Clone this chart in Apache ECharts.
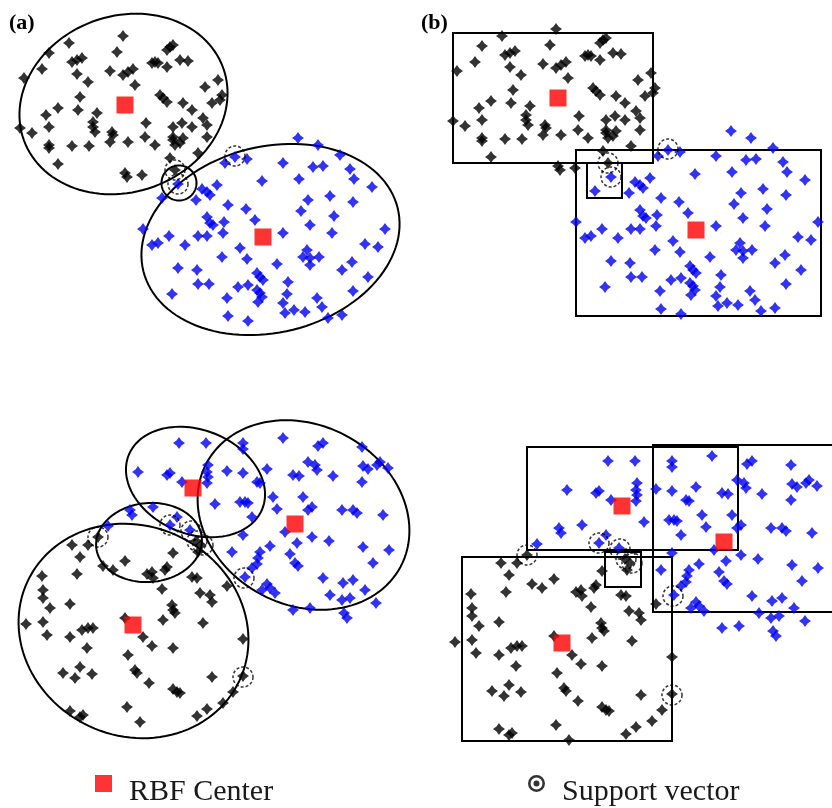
<!DOCTYPE html>
<html>
<head>
<meta charset="utf-8">
<title>RBF centers and support vectors</title>
<script src="https://cdn.jsdelivr.net/npm/echarts@6/dist/echarts.min.js"></script>
<style>
html, body { margin: 0; padding: 0; background: #fff; }
#chart { width: 832px; height: 808px; }
</style>
</head>
<body>
<div id="chart"></div>
<script>
// upper data set (panel a coordinates), reused for panel b
var topBlack = [
    [123,36],[69,43],[49,53],[117,52],[170,47],[173,45],[167,50],[72,62],[77,60],[82,58],
    [152,63],[155,62],[158,63],[180,60],[188,61],[167,67],[42,69],[24,78],[77,74],[110,71],
    [123,75],[128,72],[133,69],[88,82],[135,85],[218,80],[205,87],[222,95],[220,100],[80,97],
    [160,95],[163,98],[167,102],[183,103],[192,110],[212,103],[58,108],[46,115],[78,110],[97,113],
    [93,122],[93,127],[95,132],[146,123],[173,127],[182,123],[192,127],[203,118],[207,125],[20,128],
    [32,133],[49,127],[112,132],[113,135],[110,142],[173,137],[173,140],[183,138],[207,137],[145,137],
    [49,145],[49,148],[72,146],[89,146],[128,142],[155,145],[175,145],[180,143],[198,153],[58,164],
    [170,158],[125,173],[127,177],[142,175],[175,170]
];
var topBlue = [
    [298,138],[318,145],[340,155],[247,159],[225,163],[283,163],[313,167],[323,166],[350,169],[354,179],
    [262,181],[299,179],[372,187],[217,185],[202,189],[207,192],[210,195],[178,184],[162,198],[196,200],
    [330,196],[308,200],[353,202],[228,205],[246,209],[301,211],[334,216],[207,217],[210,223],[213,225],
    [224,222],[255,220],[310,225],[143,229],[385,229],[223,233],[198,236],[207,236],[169,236],[283,233],
    [332,233],[152,245],[158,243],[185,245],[240,248],[365,244],[378,247],[307,250],[303,257],[310,258],
    [319,257],[222,257],[247,259],[310,265],[277,264],[352,262],[178,268],[197,270],[342,270],[257,273],
    [260,277],[263,280],[368,277],[198,284],[209,284],[288,282],[238,287],[248,285],[257,290],[260,293],
    [262,297],[258,302],[287,294],[353,291],[172,294],[227,298],[317,298],[322,307],[283,303],[294,310],
    [305,312],[285,313],[328,318],[342,315],[228,316],[248,321],[235,157]
];
var topCenters = [[125,105],[263,237]];
var topSupport = [[175,170],[178,184],[235,156]];
// [cx, cy, rx, ry, angle]
var topEllipses = [[123.5,104,106,88,-20],[270.5,239.5,131,93,-14],[179,183,17.5,17.5,0]];
// [x1, y1, x2, y2]
var topRects = [[20,40,220,170],[143,157,388,323],[154,170,189,205]];

// lower data set (bottom-left coordinates), reused for bottom-right
var lowBlack = [
    [72,545],[88,545],[80,557],[125,561],[173,553],[103,566],[113,570],[147,574],[152,572],[153,578],
    [165,570],[167,567],[192,577],[197,578],[42,576],[77,574],[162,589],[200,593],[210,595],[212,602],
    [227,586],[43,590],[43,598],[50,608],[70,604],[172,605],[173,610],[175,613],[26,624],[43,622],
    [163,620],[125,618],[203,623],[82,630],[88,628],[93,628],[47,635],[70,637],[143,637],[152,646],
    [243,639],[87,648],[173,648],[128,655],[80,667],[63,673],[75,678],[92,674],[135,670],[137,673],
    [149,683],[173,689],[177,692],[180,693],[212,677],[243,676],[233,692],[223,703],[207,709],[197,716],
    [70,711],[80,717],[83,715],[127,707],[140,722],[98,537],[196,541],[201,545],[198,552]
];
var lowBlue = [
    [179,443],[206,443],[243,443],[243,449],[283,438],[318,446],[323,443],[362,447],[138,472],[167,475],
    [170,473],[208,465],[207,472],[208,477],[207,483],[227,471],[243,473],[267,469],[182,482],[257,482],
    [260,483],[293,475],[299,476],[308,462],[315,465],[317,470],[333,476],[363,466],[368,469],[377,465],
    [380,462],[388,468],[362,482],[130,510],[132,515],[153,507],[215,504],[240,502],[245,502],[248,503],
    [273,497],[303,497],[277,509],[308,510],[312,507],[342,510],[353,510],[357,513],[383,515],[252,517],
    [177,517],[170,525],[190,530],[243,535],[285,532],[312,537],[329,541],[297,543],[270,546],[232,552],
    [260,552],[258,558],[257,564],[252,568],[290,554],[295,563],[298,566],[363,547],[389,550],[373,563],
    [245,577],[323,578],[343,583],[353,580],[267,584],[270,588],[275,593],[262,590],[330,595],[342,600],
    [350,598],[365,590],[376,603],[293,610],[310,608],[344,613],[347,618],[108,526]
];
var lowCenters = [[193,488],[295,524],[133,625]];
var lowSupport = [[98,537],[170,525],[191,531],[197,541],[203,545],[244,578],[243,677]];
var lowEllipses = [[133.5,631,117,105,25],[149,542.5,53,39.5,-5],[195.5,482,72,52,22],[303.5,515,110,90,28]];
var lowRects = [[98,429,309,532],[224,427,410,594],[176,534,212,569],[33,539,243,723]];

var W = 832, H = 808;
var starPath = 'path://M0,-10L4.2,-4.2L10,0L4.2,4.2L0,10L-4.2,4.2L-10,0L-4.2,-4.2Z';
var ringDot = 'path://M10,0A10,10,0,1,1,9.99,0ZM10,3A7,7,0,1,0,10.01,3ZM10,6.5A3.5,3.5,0,1,1,9.99,6.5Z';

function ellipseItem(params, api) {
    var cx = api.value(0), cy = api.value(1), a = api.value(2), b = api.value(3);
    var phi = api.value(4) * Math.PI / 180;
    var pts = [];
    for (var k = 0; k < 120; k++) {
        var t = k / 120 * 2 * Math.PI;
        pts.push(api.coord([
            cx + a * Math.cos(phi) * Math.cos(t) - b * Math.sin(phi) * Math.sin(t),
            cy + a * Math.sin(phi) * Math.cos(t) + b * Math.cos(phi) * Math.sin(t)
        ]));
    }
    return { type: 'polygon', shape: { points: pts }, style: { fill: 'none', stroke: '#000', lineWidth: 2 } };
}

function rectItem(params, api) {
    var x1 = api.value(0), y1 = api.value(1), x2 = api.value(2), y2 = api.value(3);
    var pts = [api.coord([x1, y1]), api.coord([x2, y1]), api.coord([x2, y2]), api.coord([x1, y2])];
    return { type: 'polygon', shape: { points: pts }, style: { fill: 'none', stroke: '#000', lineWidth: 2 } };
}

// each panel: data set, shapes and pixel offset of the data set
var panels = [
    { black: topBlack, blue: topBlue, centers: topCenters, sv: topSupport, shapes: topEllipses, draw: ellipseItem, dx: 0, dy: 0 },
    { black: topBlack, blue: topBlue, centers: topCenters, sv: topSupport, shapes: topRects, draw: rectItem, dx: 433, dy: -7 },
    { black: lowBlack, blue: lowBlue, centers: lowCenters, sv: lowSupport, shapes: lowEllipses, draw: ellipseItem, dx: 0, dy: 0 },
    { black: lowBlack, blue: lowBlue, centers: lowCenters, sv: lowSupport, shapes: lowRects, draw: rectItem, dx: 429, dy: 18 }
];

var chart = echarts.init(document.getElementById('chart'), null, { renderer: 'canvas' });

var grids = [], xAxes = [], yAxes = [], series = [];
panels.forEach(function (p, i) {
    grids.push({ left: 0, top: 0, width: W, height: H });
    xAxes.push({ gridIndex: i, type: 'value', min: -p.dx, max: W - p.dx, show: false });
    yAxes.push({ gridIndex: i, type: 'value', min: -p.dy, max: H - p.dy, inverse: true, show: false });
    series.push({
        type: 'custom', xAxisIndex: i, yAxisIndex: i, renderItem: p.draw,
        data: p.shapes, encode: { x: 0, y: 1 }, silent: true, z: 1
    });
    series.push({
        type: 'scatter', xAxisIndex: i, yAxisIndex: i, data: p.black,
        symbol: starPath, symbolSize: 12, itemStyle: { color: '#000' }, z: 2
    });
    series.push({
        type: 'scatter', xAxisIndex: i, yAxisIndex: i, data: p.blue,
        symbol: starPath, symbolSize: 12, itemStyle: { color: '#0000f0' }, z: 2
    });
    series.push({
        name: 'RBF Center', type: 'scatter', xAxisIndex: i, yAxisIndex: i, data: p.centers,
        symbol: 'rect', symbolSize: 17, itemStyle: { color: '#ff0000' }, z: 3
    });
    series.push({
        name: 'Support vector', type: 'scatter', xAxisIndex: i, yAxisIndex: i, data: p.sv,
        symbol: 'circle', symbolSize: 20,
        itemStyle: { color: 'rgba(0,0,0,0)', borderColor: '#000', borderWidth: 1.5, borderType: [3, 2] },
        z: 4
    });
});

var legendText = {
    fontFamily: 'Liberation Serif', fontSize: 30, color: '#1a1a1a',
    rich: { t: { fontFamily: 'Liberation Serif', fontSize: 30, color: '#1a1a1a', padding: [17, 0, 0, 12] } }
};

var option = {
    animation: false,
    backgroundColor: '#fff',
    title: [
        { text: '(a)', left: 4, top: 7, textStyle: { fontFamily: 'Liberation Serif', fontWeight: 'bold', fontSize: 22, color: '#000' } },
        { text: '(b)', left: 416, top: 7, textStyle: { fontFamily: 'Liberation Serif', fontWeight: 'bold', fontSize: 22, color: '#000' } }
    ],
    legend: [
        {
            data: ['RBF Center'], left: 95, top: 775, padding: 0, icon: 'rect', itemWidth: 17, itemHeight: 17,
            selectedMode: false, textStyle: legendText, formatter: '{t|{name}}'
        },
        {
            data: ['Support vector'], left: 528, top: 775, padding: 0, icon: ringDot, itemWidth: 17, itemHeight: 17,
            selectedMode: false, itemStyle: { color: '#000', borderWidth: 0 }, textStyle: legendText,
            formatter: '{t|{name}}'
        }
    ],
    grid: grids,
    xAxis: xAxes,
    yAxis: yAxes,
    series: series
};

chart.setOption(option);
window.addEventListener('resize', chart.resize);
</script>
</body>
</html>
